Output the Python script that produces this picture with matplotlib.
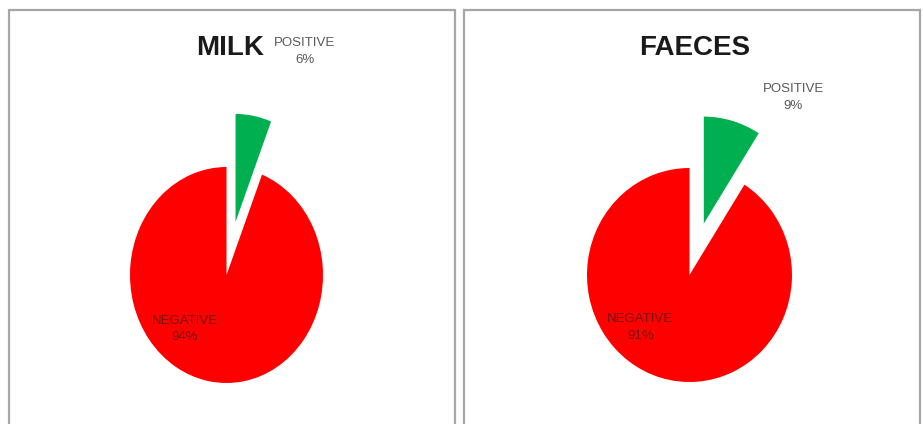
import matplotlib
matplotlib.use("Agg")
import matplotlib.pyplot as plt
from matplotlib.patches import Rectangle

W, H = 923, 424

categories = ["POSITIVE", "NEGATIVE"]
milk_values = [6, 94]
faeces_values = [9, 91]
titles = ["MILK", "FAECES"]
colors = ["#00B050", "#FF0000"]

plt.rcParams["font.family"] = ["Liberation Sans", "DejaVu Sans"]

fig = plt.figure(figsize=(W / 100, H / 100), dpi=100)
fig.patch.set_facecolor("white")

# panel frames (pixel boxes: left, top, right, bottom)
for (l, t, r, b) in [(9, 10, 455, 430), (464, 10, 920, 430)]:
    fig.patches.append(Rectangle((l / W, 1 - b / H), (r - l) / W, (b - t) / H,
                                 transform=fig.transFigure, fill=False,
                                 edgecolor="#A6A6A6", linewidth=1.6))

# pie geometry in pixels: centre x, centre y, radius x, radius y
pies = [
    dict(vals=milk_values, cx=226.5, cy=275, rx=96.5, ry=108,
         title_x=230, pos_lbl=(0.81, 2.07), neg_lbl=(-0.43, -0.5)),
    dict(vals=faeces_values, cx=689.5, cy=275, rx=102.5, ry=107,
         title_x=695, pos_lbl=(1.01, 1.66), neg_lbl=(-0.48, -0.49)),
]

L = 2.5
for p, title in zip(pies, titles):
    ax = fig.add_axes([(p["cx"] - L * p["rx"]) / W,
                       1 - (p["cy"] + L * p["ry"]) / H,
                       2 * L * p["rx"] / W,
                       2 * L * p["ry"] / H])
    ax.patch.set_alpha(0)
    ax.pie(p["vals"], colors=colors, startangle=90, counterclock=False,
           explode=[0.5, 0], wedgeprops=dict(linewidth=0))
    ax.set_aspect("auto")
    ax.set_xlim(-L, L)
    ax.set_ylim(-L, L)
    ax.axis("off")

    v_pos, v_neg = p["vals"]
    ax.text(p["pos_lbl"][0], p["pos_lbl"][1], f"{categories[0]}\n{v_pos}%",
            ha="center", va="center", fontsize=9.5, color="#595959",
            linespacing=1.5)
    ax.text(p["neg_lbl"][0], p["neg_lbl"][1], f"{categories[1]}\n{v_neg}%",
            ha="center", va="center", fontsize=9.5, color="#7A1010",
            linespacing=1.5)

    fig.text(p["title_x"] / W, 1 - 48 / H, title, ha="center", va="center",
             fontsize=20, fontweight="bold", color="#1a1a1a")

plt.savefig("out.png", dpi=100)
